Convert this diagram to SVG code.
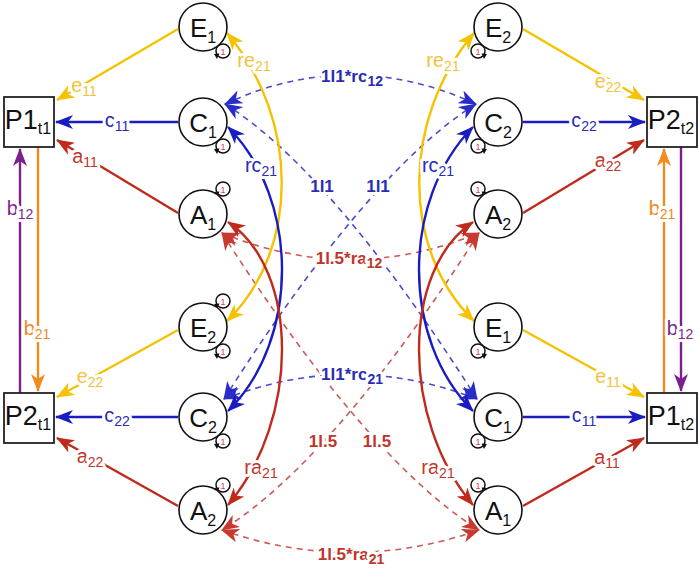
<svg xmlns="http://www.w3.org/2000/svg" xmlns:xlink="http://www.w3.org/1999/xlink" width="700" height="570" viewBox="0 0 700 570">
<style>
.node{fill:#fff;stroke:#111;stroke-width:1.6}
.box{fill:#fff;stroke:#222;stroke-width:1.8}
.nt{font-family:"Liberation Sans",Arial,sans-serif;font-size:26px;fill:#111;text-anchor:middle}
.bt{font-family:"Liberation Sans",Arial,sans-serif;font-size:27px;fill:#111;text-anchor:middle}
.sub{font-size:16px}
.ls{font-size:14px}
.lbl{font-family:"Liberation Sans",Arial,sans-serif;font-size:20px;text-anchor:middle;stroke:#fff;stroke-width:6px;stroke-linejoin:round;paint-order:stroke}
.dl{font-family:"Liberation Sans",Arial,sans-serif;font-size:17px;font-weight:bold;text-anchor:middle;stroke:#fff;stroke-width:6px;stroke-linejoin:round;paint-order:stroke}
.y{stroke:#f5c200;stroke-width:2.4;fill:none}
.b{stroke:#1a1cc2;stroke-width:2.4;fill:none}
.r{stroke:#c02a1c;stroke-width:2.4;fill:none}
.p{stroke:#7a1f8c;stroke-width:2.4;fill:none}
.o{stroke:#f28a1e;stroke-width:2.4;fill:none}
.bd{stroke:#4a4ccc;stroke-width:1.6;fill:none;stroke-dasharray:6 5}
.rd{stroke:#cc5a55;stroke-width:1.6;fill:none;stroke-dasharray:6 5}
.ty{fill:#f3c23a}
.tb{fill:#2a2cb8}
.tr{fill:#c0352a}
.tp{fill:#7a2a8c}
.to{fill:#f08a24}
.lt{font-family:"Liberation Sans",Arial,sans-serif;font-size:9px;fill:#d8405a;text-anchor:middle}
</style>
<defs>
<marker id="mY" markerUnits="userSpaceOnUse" markerWidth="18" markerHeight="14" refX="17" refY="7" orient="auto-start-reverse"><path d="M0,0 L18,7 L0,14 L5,7 Z" fill="#f5c200"/></marker>
<marker id="mB" markerUnits="userSpaceOnUse" markerWidth="18" markerHeight="14" refX="17" refY="7" orient="auto-start-reverse"><path d="M0,0 L18,7 L0,14 L5,7 Z" fill="#1a1cc2"/></marker>
<marker id="mR" markerUnits="userSpaceOnUse" markerWidth="18" markerHeight="14" refX="17" refY="7" orient="auto-start-reverse"><path d="M0,0 L18,7 L0,14 L5,7 Z" fill="#c02a1c"/></marker>
<marker id="mP" markerUnits="userSpaceOnUse" markerWidth="18" markerHeight="14" refX="17" refY="7" orient="auto-start-reverse"><path d="M0,0 L18,7 L0,14 L5,7 Z" fill="#7a1f8c"/></marker>
<marker id="mO" markerUnits="userSpaceOnUse" markerWidth="18" markerHeight="14" refX="17" refY="7" orient="auto-start-reverse"><path d="M0,0 L18,7 L0,14 L5,7 Z" fill="#f28a1e"/></marker>
<marker id="mBd" markerUnits="userSpaceOnUse" markerWidth="18" markerHeight="14" refX="17" refY="7" orient="auto-start-reverse"><path d="M0,0 L18,7 L0,14 L5,7 Z" fill="#2a2cc8"/></marker>
<marker id="mRd" markerUnits="userSpaceOnUse" markerWidth="18" markerHeight="14" refX="17" refY="7" orient="auto-start-reverse"><path d="M0,0 L18,7 L0,14 L5,7 Z" fill="#c83a30"/></marker>
<g id="loopL">
<circle r="7" fill="#fff" stroke="#111" stroke-width="1.5"/>
<path d="M-9,3 L-3.5,2.5 L-6,8 Z" fill="#111"/>
<text class="lt" y="3.5">1</text>
</g>
<g id="loopRt">
<circle r="7" fill="#fff" stroke="#111" stroke-width="1.5"/>
<path d="M9,3 L3.5,2.5 L6,8 Z" fill="#111"/>
<text class="lt" y="3.5">1</text>
</g>
</defs>
<rect width="700" height="570" fill="#fff"/>

<g id="connectors">
<path class="bd" d="M225,104 Q350,46 476,104" marker-start="url(#mBd)" marker-end="url(#mBd)"/>
<path class="bd" d="M225,104 Q332,171 477,399" marker-start="url(#mBd)" marker-end="url(#mBd)"/>
<path class="bd" d="M476,104 Q369,171 224,399" marker-start="url(#mBd)" marker-end="url(#mBd)"/>
<path class="bd" d="M224,399 Q350,350 477,399" marker-start="url(#mBd)" marker-end="url(#mBd)"/>
<path class="rd" d="M222,233 Q350,286 479,233" marker-start="url(#mRd)" marker-end="url(#mRd)"/>
<path class="rd" d="M222,233 Q368,461 479,530" marker-start="url(#mRd)" marker-end="url(#mRd)"/>
<path class="rd" d="M479,233 Q333,461 222,530" marker-start="url(#mRd)" marker-end="url(#mRd)"/>
<path class="rd" d="M222,530 Q350,575 479,530" marker-start="url(#mRd)" marker-end="url(#mRd)"/>
<path class="y" d="M227,33 C300,120 300,250 227,321" marker-start="url(#mY)" marker-end="url(#mY)"/>
<path class="b" d="M228,127 C300,200 300,340 228,411" marker-start="url(#mB)" marker-end="url(#mB)"/>
<path class="r" d="M228,222 C300,270 300,420 228,505" marker-start="url(#mR)" marker-end="url(#mR)"/>
<path class="y" d="M474,33 C401,120 401,250 474,321" marker-start="url(#mY)" marker-end="url(#mY)"/>
<path class="b" d="M473,127 C401,200 401,340 473,411" marker-start="url(#mB)" marker-end="url(#mB)"/>
<path class="r" d="M473,222 C401,270 401,420 473,505" marker-start="url(#mR)" marker-end="url(#mR)"/>
<path class="y" d="M178,29 L57,100" marker-end="url(#mY)"/>
<path class="b" d="M178,122 L56,122" marker-end="url(#mB)"/>
<path class="r" d="M178,213 L57,140" marker-end="url(#mR)"/>
<path class="y" d="M178,330 L57,397" marker-end="url(#mY)"/>
<path class="b" d="M178,417 L56,417" marker-end="url(#mB)"/>
<path class="r" d="M178,506 L57,438" marker-end="url(#mR)"/>
<path class="p" d="M20,393 L20,149" marker-end="url(#mP)"/>
<path class="o" d="M38,147 L38,391" marker-end="url(#mO)"/>
<path class="y" d="M523,29 L644,100" marker-end="url(#mY)"/>
<path class="b" d="M523,122 L645,122" marker-end="url(#mB)"/>
<path class="r" d="M523,213 L644,140" marker-end="url(#mR)"/>
<path class="y" d="M523,330 L644,397" marker-end="url(#mY)"/>
<path class="b" d="M523,417 L645,417" marker-end="url(#mB)"/>
<path class="r" d="M523,506 L644,438" marker-end="url(#mR)"/>
<path class="o" d="M664,393 L664,149" marker-end="url(#mO)"/>
<path class="p" d="M681,147 L681,391" marker-end="url(#mP)"/>

<text class="lbl ty" x="84" y="92">e<tspan class="ls" dy="4">11</tspan></text>
<text class="lbl tb" x="117" y="127">c<tspan class="ls" dy="4">11</tspan></text>
<text class="lbl tr" x="85" y="163">a<tspan class="ls" dy="4">11</tspan></text>
<text class="lbl tp" x="20" y="215">b<tspan class="ls" dy="4">12</tspan></text>
<text class="lbl to" x="37" y="335">b<tspan class="ls" dy="4">21</tspan></text>
<text class="lbl ty" x="90" y="383">e<tspan class="ls" dy="4">22</tspan></text>
<text class="lbl tb" x="117" y="422">c<tspan class="ls" dy="4">22</tspan></text>
<text class="lbl tr" x="90" y="463">a<tspan class="ls" dy="4">22</tspan></text>

<text class="lbl ty" x="608" y="88">e<tspan class="ls" dy="4">22</tspan></text>
<text class="lbl tb" x="584" y="127">c<tspan class="ls" dy="4">22</tspan></text>
<text class="lbl tr" x="608" y="167">a<tspan class="ls" dy="4">22</tspan></text>
<text class="lbl to" x="662" y="215">b<tspan class="ls" dy="4">21</tspan></text>
<text class="lbl tp" x="680" y="335">b<tspan class="ls" dy="4">12</tspan></text>
<text class="lbl ty" x="608" y="383">e<tspan class="ls" dy="4">11</tspan></text>
<text class="lbl tb" x="584" y="422">c<tspan class="ls" dy="4">11</tspan></text>
<text class="lbl tr" x="607" y="464">a<tspan class="ls" dy="4">11</tspan></text>

<text class="lbl ty" x="254" y="67">re<tspan class="ls" dy="4">21</tspan></text>
<text class="lbl tb" x="261" y="172">rc<tspan class="ls" dy="4">21</tspan></text>
<text class="lbl tr" x="261" y="474">ra<tspan class="ls" dy="4">21</tspan></text>
<text class="lbl ty" x="443" y="67">re<tspan class="ls" dy="4">21</tspan></text>
<text class="lbl tb" x="438" y="172">rc<tspan class="ls" dy="4">21</tspan></text>
<text class="lbl tr" x="438" y="474">ra<tspan class="ls" dy="4">21</tspan></text>

<text class="dl tb" x="352" y="82">1l1*rc<tspan class="ls" dy="4">12</tspan></text>
<text class="dl tb" x="322" y="192">1l1</text>
<text class="dl tb" x="378" y="192">1l1</text>
<text class="dl tr" x="349" y="264">1l.5*ra<tspan class="ls" dy="4">12</tspan></text>
<text class="dl tb" x="352" y="380">1l1*rc<tspan class="ls" dy="4">21</tspan></text>
<text class="dl tr" x="323" y="447">1l.5</text>
<text class="dl tr" x="377" y="447">1l.5</text>
<text class="dl tr" x="351" y="560">1l.5*ra<tspan class="ls" dy="4">21</tspan></text>
</g>

<g id="P1_t1"><rect class="box" x="4" y="97" width="50" height="50"/><text class="bt" x="28" y="129">P1<tspan class="sub" dy="5">t1</tspan></text></g>
<g id="P2_t1"><rect class="box" x="4" y="393" width="50" height="50"/><text class="bt" x="28" y="425">P2<tspan class="sub" dy="5">t1</tspan></text></g>
<g id="P2_t2"><rect class="box" x="647" y="97" width="50" height="50"/><text class="bt" x="671" y="129">P2<tspan class="sub" dy="5">t2</tspan></text></g>
<g id="P1_t2"><rect class="box" x="647" y="393" width="50" height="50"/><text class="bt" x="671" y="425">P1<tspan class="sub" dy="5">t2</tspan></text></g>

<g id="E1_left"><use xlink:href="#loopL" x="223" y="51"/><circle class="node" cx="203" cy="27" r="24"/><text class="nt" x="203" y="37">E<tspan class="sub" dy="6">1</tspan></text></g>
<g id="C1_left"><use xlink:href="#loopL" x="223" y="146"/><circle class="node" cx="203" cy="122" r="24"/><text class="nt" x="203" y="132">C<tspan class="sub" dy="6">1</tspan></text></g>
<g id="A1_left"><use xlink:href="#loopL" x="223" y="189"/><circle class="node" cx="203" cy="214" r="24"/><text class="nt" x="203" y="224">A<tspan class="sub" dy="6">1</tspan></text></g>
<g id="E2_left"><use xlink:href="#loopL" x="223" y="301"/><use xlink:href="#loopL" x="223" y="351"/><circle class="node" cx="203" cy="327" r="24"/><text class="nt" x="203" y="337">E<tspan class="sub" dy="6">2</tspan></text></g>
<g id="C2_left"><use xlink:href="#loopL" x="223" y="441"/><circle class="node" cx="203" cy="417" r="24"/><text class="nt" x="203" y="427">C<tspan class="sub" dy="6">2</tspan></text></g>
<g id="A2_left"><use xlink:href="#loopL" x="223" y="485"/><circle class="node" cx="203" cy="510" r="24"/><text class="nt" x="203" y="520">A<tspan class="sub" dy="6">2</tspan></text></g>

<g id="E2_right"><use xlink:href="#loopRt" x="478" y="51"/><circle class="node" cx="498" cy="27" r="24"/><text class="nt" x="498" y="37">E<tspan class="sub" dy="6">2</tspan></text></g>
<g id="C2_right"><use xlink:href="#loopRt" x="478" y="146"/><circle class="node" cx="498" cy="122" r="24"/><text class="nt" x="498" y="132">C<tspan class="sub" dy="6">2</tspan></text></g>
<g id="A2_right"><use xlink:href="#loopRt" x="478" y="189"/><circle class="node" cx="498" cy="214" r="24"/><text class="nt" x="498" y="224">A<tspan class="sub" dy="6">2</tspan></text></g>
<g id="E1_right"><use xlink:href="#loopRt" x="478" y="351"/><circle class="node" cx="498" cy="327" r="24"/><text class="nt" x="498" y="337">E<tspan class="sub" dy="6">1</tspan></text></g>
<g id="C1_right"><use xlink:href="#loopRt" x="478" y="441"/><circle class="node" cx="498" cy="417" r="24"/><text class="nt" x="498" y="427">C<tspan class="sub" dy="6">1</tspan></text></g>
<g id="A1_right"><use xlink:href="#loopRt" x="478" y="485"/><circle class="node" cx="498" cy="510" r="24"/><text class="nt" x="498" y="520">A<tspan class="sub" dy="6">1</tspan></text></g>
</svg>
